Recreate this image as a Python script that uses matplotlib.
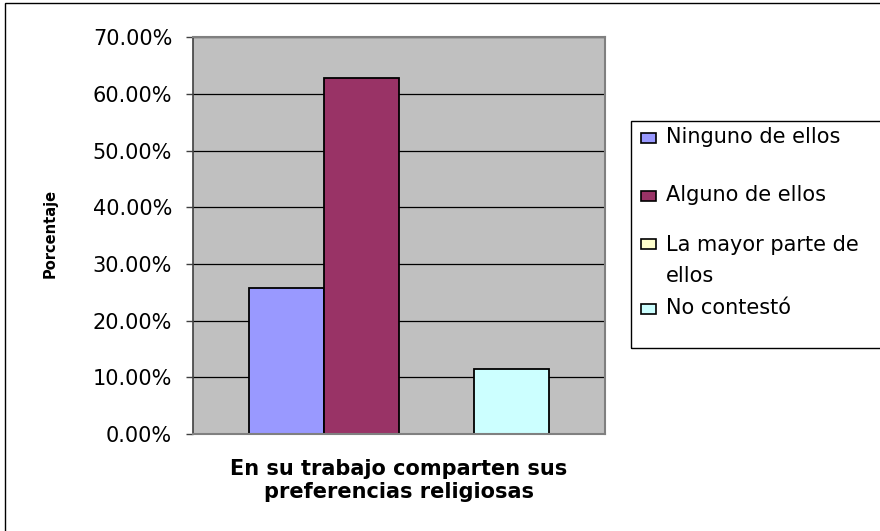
import numpy as np
import matplotlib.pyplot as plt
from matplotlib.patches import Rectangle
from matplotlib.ticker import PercentFormatter, MultipleLocator

plt.rcParams['font.family'] = ['DejaVu Sans']

# respuestas en porcentaje
series = ['Ninguno de ellos', 'Alguno de ellos', 'La mayor parte de\nellos', 'No contestó']
values = [25.71, 62.86, 0.0, 11.43]
colors = ['#9999FF', '#993366', '#FFFFCC', '#CCFFFF']
xlabel = 'En su trabajo comparten sus\npreferencias religiosas'
ylabel = 'Porcentaje'

W, H = 880, 531
fig = plt.figure(figsize=(W / 100, H / 100), dpi=100)

# marco exterior (recortado por la derecha y por abajo)
fig.add_artist(Rectangle((5 / W, -0.1), 1.2, 1 - 3 / H + 0.1, transform=fig.transFigure,
                         fill=False, ec='black', lw=1))

ax = fig.add_axes([193 / W, 1 - 434 / H, 412 / W, 396.7 / H])
ax.set_facecolor('#C0C0C0')

w = 1 / 5.5
x = (np.arange(len(values)) - 1.5) * w
ax.bar(x, values, width=w, color=colors, edgecolor='black', linewidth=1.3, align='center')

ax.set_xlim(-0.5, 0.5)
ax.set_ylim(0, 70)
ax.yaxis.set_major_locator(MultipleLocator(10))
ax.yaxis.set_major_formatter(PercentFormatter(xmax=100, decimals=2))
ax.set_axisbelow(True)
ax.grid(axis='y', color='black', linewidth=0.9)
ax.set_xticks([])
ax.tick_params(axis='y', length=5, width=1, color='#404040', pad=10, labelsize=15)

for side in ['top', 'right', 'bottom']:
    ax.spines[side].set_color('#808080')
    ax.spines[side].set_linewidth(1.5)
ax.spines['left'].set_color('#404040')
ax.spines['left'].set_linewidth(1.2)

fig.text(50 / W, 1 - 233 / H, ylabel, rotation=90, ha='center', va='center',
         fontsize=10.5, fontweight='bold')
fig.text(399 / W, 1 - 459 / H, xlabel, ha='center', va='top', fontsize=15,
         fontweight='bold', linespacing=1.2)

# leyenda: la muestra se alinea con la primera línea del texto
fig.add_artist(Rectangle((631 / W, 1 - 348 / H), 0.5, 227 / H, transform=fig.transFigure,
                         fill=False, ec='black', lw=1))
baselines = [143, 200.5, 249, 314]
line_step = 32.7
for lab, col, b in zip(series, colors, baselines):
    fig.add_artist(Rectangle((641 / W, 1 - b / H), 15 / W, 10 / H, transform=fig.transFigure,
                             fc=col, ec='black', lw=1.2))
    last = b + line_step * lab.count('\n')
    fig.text(666 / W, 1 - last / H, lab, ha='left', va='baseline', fontsize=15,
             linespacing=1.69)

fig.savefig('out.png', dpi=100)
